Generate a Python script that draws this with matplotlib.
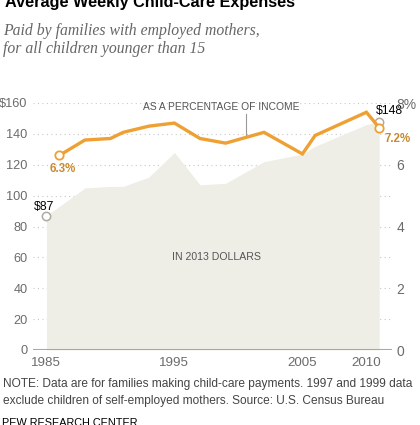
import numpy as np
from matplotlib import pyplot as plt

# weekly child-care spending, 2013 dollars
dollar_years = [1985, 1988, 1990, 1991, 1993, 1995, 1997, 1999, 2002, 2005, 2006, 2010, 2011]
dollars = [87, 105, 106, 106, 112, 128, 107, 108, 122, 127, 132, 146, 148]

# spending as a share of family income (%)
pct_years = [1986, 1988, 1990, 1991, 1993, 1995, 1997, 1999, 2002, 2005, 2006, 2010, 2011]
pct = [6.3, 6.8, 6.85, 7.05, 7.25, 7.35, 6.85, 6.7, 7.05, 6.35, 6.95, 7.7, 7.2]

left_ticks = [0, 20, 40, 60, 80, 100, 120, 140, 160]
left_labels = ["0", "20", "40", "60", "80", "100", "120", "140", "$160"]
right_ticks = [0, 2, 4, 6, 8]
right_labels = ["0", "2", "4", "6", "8%"]
year_ticks = [1985, 1995, 2005, 2010]

ORANGE = "#eea032"
ORANGE_TXT = "#c98a2e"
AREA = "#efeee6"
GRID = "#c8c8c8"
TICK = "#6b6b6b"

plt.rcParams['font.family'] = ['Liberation Sans', 'DejaVu Sans']

fig = plt.figure(figsize=(4.2, 4.25), dpi=100)
W, H = 420, 425
ax = fig.add_axes([33 / W, 1 - 350 / H, (392 - 33) / W, (350 - 103) / H])

ax.set_xlim(1983.95, 2012.0)
ax.set_ylim(0, 160)

for t in left_ticks[1:]:
    ax.axhline(t, color=GRID, lw=0.8, ls=(0, (1, 3)), zorder=0)

ax.fill_between(dollar_years, dollars, 0, color=AREA, lw=0, zorder=1)
ax.axhline(0, color="#a8a8a8", lw=1.5, zorder=2)

# percentage line, right axis (1% = $20)
ax2 = ax.twinx()
ax2.set_ylim(0, 8)
ax2.plot(pct_years, pct, color=ORANGE, lw=2.4, zorder=3, solid_joinstyle="miter")
ax2.plot([pct_years[0], pct_years[-1]], [pct[0], pct[-1]], ls="none", marker="o",
         ms=6, mfc="white", mec=ORANGE, mew=1.3, zorder=4)
ax.plot([dollar_years[0], dollar_years[-1]], [dollars[0], dollars[-1]], ls="none",
        marker="o", ms=6, mfc="white", mec="#b0a9a0", mew=1.1, zorder=3)

for a in (ax, ax2):
    for s in a.spines.values():
        s.set_visible(False)

ax.set_yticks(left_ticks)
ax.set_yticklabels(left_labels)
ax.tick_params(axis="y", length=0, pad=4, labelsize=9.2, labelcolor=TICK)
ax.set_xticks(year_ticks)
ax.tick_params(axis="x", length=0, pad=5, labelsize=9.6, labelcolor=TICK)
ax2.set_yticks(right_ticks)
ax2.set_yticklabels(right_labels)
ax2.tick_params(axis="y", length=0, pad=3, labelsize=10, labelcolor=TICK)

ax.text(1984.8, 92.6, "$87", ha="center", va="center", fontsize=8.8, color="black")
ax.text(1986.3, 117.2, "6.3%", ha="center", va="center",
        fontsize=8.3, color=ORANGE_TXT, fontweight="bold")
ax.text(2011.8, 154.8, "$148", ha="center", va="center", fontsize=8.8, color="black")
ax.text(2012.4, 136.6, "7.2%", ha="center", va="center",
        fontsize=8.3, color=ORANGE_TXT, fontweight="bold", clip_on=False)

ax.text(1998.64, 157.4, "AS A PERCENTAGE OF INCOME", ha="center", va="center",
        fontsize=7.4, color="#555555")
ax.plot([2000.6, 2000.6], [153, 138], color="#999999", lw=0.8, zorder=5)
ax.text(1998.3, 60.2, "IN 2013 DOLLARS", ha="center", va="center",
        fontsize=7.6, color="#555555")

fig.text(5 / W, 1 - 7.5 / H, "Average Weekly Child-Care Expenses", ha="left",
         va="baseline", fontsize=11.7, fontweight="bold", color="black")
serif = ["Liberation Serif", "DejaVu Serif"]
fig.text(3 / W, 1 - 31 / H, "Paid by families with employed mothers,",
         ha="left", va="center", fontsize=11.3, style="italic", color="#666666", family=serif)
fig.text(3 / W, 1 - 49 / H, "for all children younger than 15",
         ha="left", va="center", fontsize=11.3, style="italic", color="#666666", family=serif)
fig.text(3 / W, 1 - 384 / H,
         "NOTE: Data are for families making child-care payments. 1997 and 1999 data",
         ha="left", va="center", fontsize=8.6, color="#444444")
fig.text(3 / W, 1 - 401 / H,
         "exclude children of self-employed mothers. Source: U.S. Census Bureau",
         ha="left", va="center", fontsize=8.6, color="#444444")
fig.text(2 / W, 1 - 426 / H, "PEW RESEARCH CENTER", ha="left", va="baseline",
         fontsize=7.8, color="black")

fig.savefig("out.png", dpi=100)
